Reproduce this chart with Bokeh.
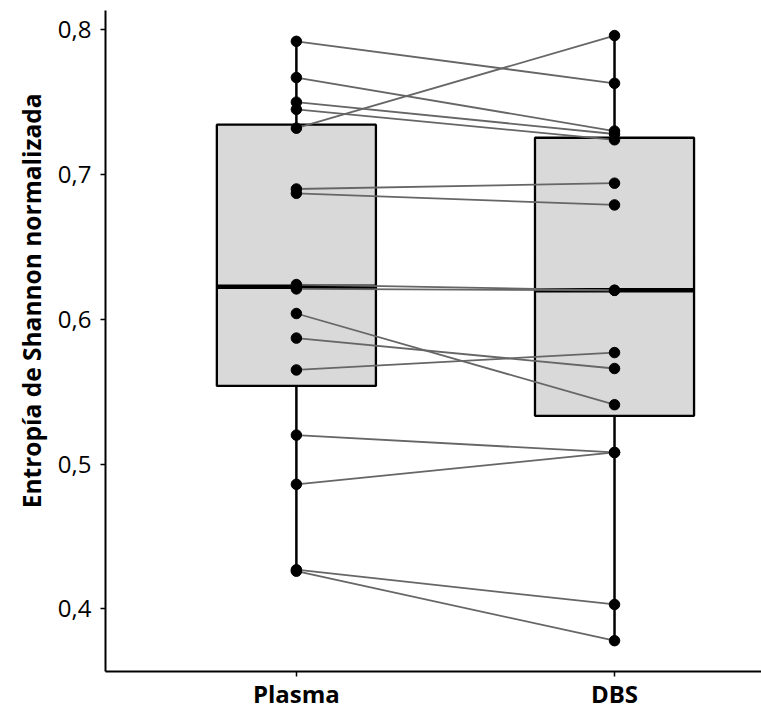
from bokeh.plotting import figure
from bokeh.models import Range1d, FixedTicker, CustomJSTickFormatter, ColumnDataSource, Title
from bokeh.embed import file_html
from bokeh.resources import INLINE

# ---- data ----
categories = ["Plasma", "DBS"]
plasma = [0.792, 0.767, 0.750, 0.745, 0.732, 0.690, 0.687, 0.624,
          0.621, 0.604, 0.587, 0.565, 0.520, 0.486, 0.427, 0.426]
dbs = [0.763, 0.730, 0.728, 0.724, 0.796, 0.694, 0.679, 0.620,
       0.620, 0.541, 0.566, 0.577, 0.508, 0.508, 0.403, 0.378]
box_q1 = [0.5540, 0.5333]
box_median = [0.6225, 0.6200]
box_q3 = [0.7344, 0.7254]
whisker_low = [0.426, 0.378]
whisker_high = [0.792, 0.796]
y_ticks = [0.4, 0.5, 0.6, 0.7, 0.8]
y_title = "Entropía de Shannon normalizada"

xpos = [i + 1 for i in range(len(categories))]
half_w = 0.25

p = figure(width=761, height=713, output_backend="svg", toolbar_location=None,
           x_range=Range1d(0.4, 2.462), y_range=Range1d(0.3567, 0.8133),
           min_border_left=105, min_border_right=0, min_border_top=10,
           min_border_bottom=42)
p.outline_line_color = None
p.xgrid.visible = False
p.ygrid.visible = False
p.background_fill_color = "white"

box_src = ColumnDataSource(dict(
    x=xpos, left=[x - half_w for x in xpos], right=[x + half_w for x in xpos],
    q1=box_q1, med=box_median, q3=box_q3, lo=whisker_low, hi=whisker_high))

# whiskers
p.segment(x0="x", y0="q3", x1="x", y1="hi", source=box_src, line_color="black", line_width=2.5)
p.segment(x0="x", y0="lo", x1="x", y1="q1", source=box_src, line_color="black", line_width=2.5)
# boxes
p.quad(left="left", right="right", bottom="q1", top="q3", source=box_src,
       fill_color="#d9d9d9", line_color="black", line_width=2.3)
p.segment(x0="left", y0="med", x1="right", y1="med", source=box_src,
          line_color="black", line_width=4.5)

# paired lines
pair_src = ColumnDataSource(dict(x0=[xpos[0]] * len(plasma), y0=plasma,
                                 x1=[xpos[1]] * len(dbs), y1=dbs))
p.segment(x0="x0", y0="y0", x1="x1", y1="y1", source=pair_src,
          line_color="#666666", line_width=1.8)

# points
p.scatter([xpos[0]] * len(plasma), plasma, size=10.5, color="black")
p.scatter([xpos[1]] * len(dbs), dbs, size=10.5, color="black")

# axes
for ax in (p.xaxis[0], p.yaxis[0]):
    ax.axis_line_width = 2
    ax.axis_line_color = "black"
    ax.major_tick_line_width = 1.5
    ax.major_tick_line_color = "black"
    ax.major_tick_out = 5
    ax.major_tick_in = 0
    ax.minor_tick_line_color = None
    ax.major_label_text_color = "black"
    ax.major_label_text_font = "Open Sans"

p.yaxis.ticker = FixedTicker(ticks=y_ticks)
p.yaxis.formatter = CustomJSTickFormatter(code="return tick.toFixed(1).replace('.', ',');")
p.yaxis.major_label_text_font_size = "24px"
p.yaxis.major_label_standoff = 9

# y-axis title, placed in the left panel and shifted upward as in the reference
ytitle = Title(text=y_title, align="right", offset=83,
               text_font="Open Sans", text_font_style="bold", text_font_size="24.5px",
               text_color="black", standoff=14)
p.add_layout(ytitle, "left")

p.xaxis.ticker = FixedTicker(ticks=xpos)
p.xaxis.major_label_overrides = {xpos[i]: categories[i] for i in range(len(categories))}
p.xaxis.major_label_text_font_size = "24px"
p.xaxis.major_label_text_font_style = "bold"
p.xaxis.major_label_standoff = 0

open("out.html", "w").write(file_html(p, INLINE))
